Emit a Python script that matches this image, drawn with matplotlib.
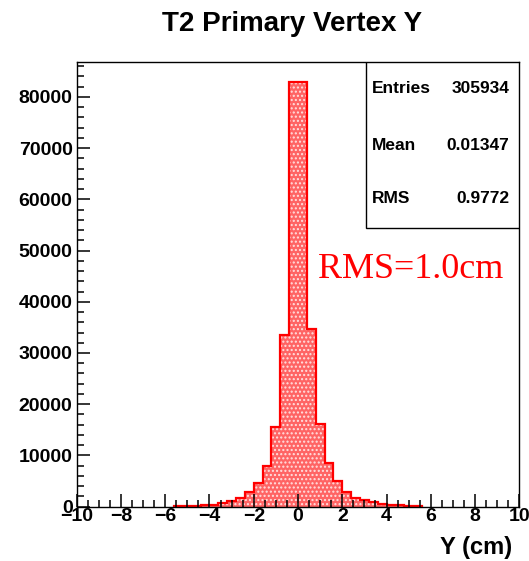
import numpy as np
import matplotlib
matplotlib.use("Agg")
import matplotlib.pyplot as plt
from matplotlib.ticker import MultipleLocator
from matplotlib.patches import Rectangle

# histogram bins (cm) and counts
bin_edges = [-5.6, -5.2, -4.8, -4.4, -4.0, -3.6, -3.2, -2.8, -2.4, -2.0, -1.6, -1.2,
             -0.8, -0.4, 0.0, 0.4, 0.8, 1.2, 1.6, 2.0, 2.4, 2.8, 3.2, 3.6, 4.0,
             4.4, 4.8, 5.2, 5.6]
counts = [150, 180, 210, 260, 420, 780, 1110, 1760, 2800, 4570, 7950, 15600,
          33500, 82800, 82800, 34700, 16150, 8470, 5020, 2800, 1640, 1250, 860,
          620, 380, 260, 200, 160]

stat_names = ["Entries", "Mean", "RMS"]
stat_values = ["305934", "0.01347", "0.9772"]

title = "T2 Primary Vertex Y"
xlabel = "Y (cm)"
note = "RMS=1.0cm"

plt.rcParams['font.family'] = ['Liberation Sans', 'DejaVu Sans']
plt.rcParams['hatch.linewidth'] = 1.0

fig = plt.figure(figsize=(5.29, 5.61), dpi=100)
ax = fig.add_axes([0.145, 0.0968, 0.8367, 0.7927])

# filled histogram with dotted ROOT-like pattern
ax.stairs(counts, bin_edges, fill=True, facecolor='#ff6464', edgecolor='#ffe0e0',
          hatch='....', linewidth=0)
ax.stairs(counts, bin_edges, baseline=0, color='red', linewidth=1.6)

ax.set_xlim(-10, 10)
ax.set_ylim(0, 86800)

ax.xaxis.set_major_locator(MultipleLocator(2))
ax.xaxis.set_minor_locator(MultipleLocator(0.5))
ax.yaxis.set_major_locator(MultipleLocator(10000))
ax.yaxis.set_minor_locator(MultipleLocator(2000))
ax.tick_params(which='both', direction='in', top=False, right=False, width=1.1)
ax.tick_params(which='major', length=9.5)
ax.tick_params(which='minor', length=5)
ax.tick_params(axis='x', pad=1)
ax.tick_params(axis='y', pad=3)
for lab in ax.get_xticklabels() + ax.get_yticklabels():
    lab.set_fontweight('bold')
    lab.set_fontsize(14)
for sp in ax.spines.values():
    sp.set_linewidth(1.0)

# stats box
ax.add_patch(Rectangle((0.654, 0.626), 0.346, 0.374, transform=ax.transAxes,
                       facecolor='white', edgecolor='black', linewidth=1.0, zorder=5))
row_y = [0.9415, 0.812, 0.694]
for name, val, y in zip(stat_names, stat_values, row_y):
    ax.text(0.667, y, name, transform=ax.transAxes, fontsize=12.5, fontweight='bold',
            va='center', ha='left', zorder=6)
    ax.text(0.978, y, val, transform=ax.transAxes, fontsize=12.5, fontweight='bold',
            va='center', ha='right', zorder=6)

ax.text(0.5445, 0.514, note, transform=ax.transAxes, color='red', fontsize=26,
        family='Liberation Serif', va='baseline', ha='left')

fig.text(292 / 529, 1 - 24 / 561, title, fontsize=20, fontweight='bold',
         ha='center', va='center')
fig.text(512 / 529, 1 - 559 / 561, xlabel, fontsize=17, fontweight='bold',
         ha='right', va='bottom')

fig.savefig("out.png", dpi=100)
